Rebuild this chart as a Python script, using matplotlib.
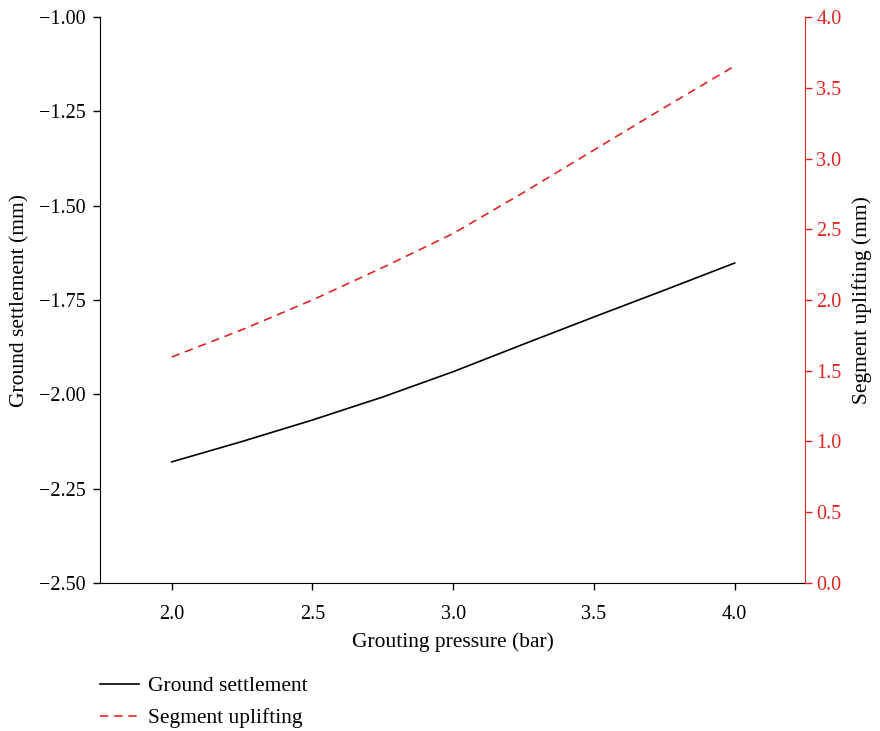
import matplotlib
matplotlib.use('Agg')
import matplotlib.pyplot as plt
from matplotlib.lines import Line2D

plt.rcParams['font.family'] = ['Liberation Serif', 'DejaVu Serif']
plt.rcParams['font.size'] = 14.5

# Data
pressure = [2.0, 2.25, 2.5, 2.75, 3.0, 3.25, 3.5, 3.75, 4.0]
settlement = [-2.179, -2.125, -2.068, -2.007, -1.940, -1.867, -1.795, -1.724, -1.652]
uplifting = [1.597, 1.79, 2.00, 2.23, 2.47, 2.76, 3.06, 3.36, 3.654]

left_ticks = [-2.50, -2.25, -2.00, -1.75, -1.50, -1.25, -1.00]
right_ticks = [0.0, 0.5, 1.0, 1.5, 2.0, 2.5, 3.0, 3.5, 4.0]
x_ticks = [2.0, 2.5, 3.0, 3.5, 4.0]

RED = '#e52421'
LABEL_SIZE = 15.5

fig = plt.figure(figsize=(8.8, 7.31), dpi=100)
ax = fig.add_axes([0.1136, 0.2025, 0.8012, 0.7742])
ax2 = ax.twinx()

ax.plot(pressure, settlement, color='black', lw=1.2)
ax2.plot(pressure, uplifting, color=RED, lw=1.2, ls=(0, (5, 3.5)))

ax.set_xlim(1.745, 4.25)
ax.set_ylim(-2.5, -1.0)
ax2.set_ylim(0.0, 4.0)

ax.set_xticks(x_ticks)
ax.set_xticklabels(['{:.1f}'.format(v) for v in x_ticks])
ax.set_yticks(left_ticks)
ax.set_yticklabels(['{:.2f}'.format(v).replace('-', '\u2212') for v in left_ticks])
ax2.set_yticks(right_ticks)
ax2.set_yticklabels(['{:.1f}'.format(v) for v in right_ticks])

ax.set_xlabel('Grouting pressure (bar)', fontsize=LABEL_SIZE, labelpad=6)
ax.set_ylabel('Ground settlement (mm)', fontsize=LABEL_SIZE, labelpad=7)
ax2.set_ylabel('Segment uplifting (mm)', fontsize=LABEL_SIZE, labelpad=8)

for a in (ax, ax2):
  a.spines['top'].set_visible(False)
ax.spines['right'].set_visible(False)
ax2.spines['left'].set_visible(False)
ax2.spines['bottom'].set_visible(False)
ax2.spines['right'].set_color(RED)

ax.tick_params(axis='x', direction='out', length=5, width=1, pad=11)
ax.tick_params(axis='y', direction='out', length=5, width=1, pad=5)
ax2.tick_params(axis='y', direction='out', length=5, width=1, colors=RED, pad=3)

handles = [
  Line2D([], [], color='black', lw=1.2),
  Line2D([], [], color=RED, lw=1.2, ls=(0, (5, 3.5))),
]
fig.legend(handles, ['Ground settlement', 'Segment uplifting'],
           loc='upper left', bbox_to_anchor=(0.114, 0.075), frameon=False,
           fontsize=LABEL_SIZE, handlelength=1.8, handletextpad=0.4,
           labelspacing=0.55, borderaxespad=0, borderpad=0)

fig.savefig('out.png', dpi=100)
